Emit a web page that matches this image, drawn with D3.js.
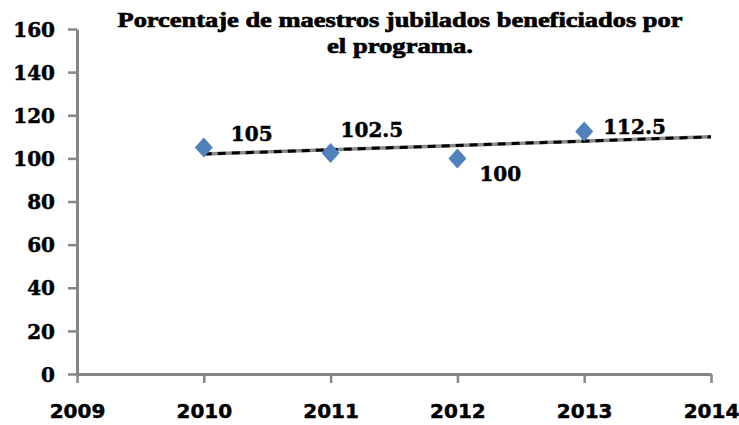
<!DOCTYPE html>
<html>
<head>
<meta charset="utf-8">
<script src="https://cdn.jsdelivr.net/npm/d3@7"></script>
<style>
  html, body { margin: 0; padding: 0; background: #fff; }
  svg { display: block; }
</style>
</head>
<body>
<script>
// ---- data ----
const years = [2010, 2011, 2012, 2013];
const values = [105, 102.5, 100, 112.5];
const labels = ["105", "102.5", "100", "112.5"];
const xTicks = [2009, 2010, 2011, 2012, 2013, 2014];
const yTicks = [0, 20, 40, 60, 80, 100, 120, 140, 160];
const titleLines = ["Porcentaje de maestros jubilados beneficiados por", "el programa."];
// label placement (offset from the point, in px): [dx, dy]
const labelOffsets = [[27, -7], [10, -16], [22, 23], [19, 3]];

const W = 739, H = 425;
const svg = d3.select("body").append("svg").attr("width", W).attr("height", H);

const x = d3.scaleLinear().domain([2009, 2014]).range([77, 711]);
const y = d3.scaleLinear().domain([0, 160]).range([374, 29]);
const axisColor = "#868686";

// y axis
const yAxis = svg.append("g").attr("transform", `translate(${x(2009)},0)`)
  .call(d3.axisLeft(y).tickValues(yTicks).tickSize(9).tickPadding(13).tickSizeOuter(0));
yAxis.select(".domain").attr("stroke", axisColor).attr("stroke-width", 3);
yAxis.selectAll(".tick line").attr("stroke", axisColor).attr("stroke-width", 2.5);
yAxis.selectAll(".tick text")
  .attr("font-family", "'DejaVu Serif', serif").attr("font-weight", "bold")
  .attr("font-size", 20).attr("fill", "#000").attr("stroke", "#000").attr("stroke-width", 0.5)
  .attr("dy", "0.36em");

// x axis
const xAxis = svg.append("g").attr("transform", `translate(0,${y(0)})`)
  .call(d3.axisBottom(x).tickValues(xTicks).tickFormat(d3.format("d")).tickSize(9).tickPadding(20).tickSizeOuter(0));
xAxis.select(".domain").attr("stroke", axisColor).attr("stroke-width", 3);
xAxis.selectAll(".tick line").attr("stroke", axisColor).attr("stroke-width", 2.5);
xAxis.selectAll(".tick text")
  .attr("font-family", "'DejaVu Sans', sans-serif").attr("font-weight", "bold")
  .attr("font-size", 20).attr("fill", "#000").attr("stroke", "#000").attr("stroke-width", 0.5)
  .attr("dy", null).attr("y", 44);

// linear trendline (least squares on the series)
const mx = d3.mean(years), my = d3.mean(values);
const slope = d3.sum(years, (d, i) => (d - mx) * (values[i] - my)) / d3.sum(years, d => (d - mx) ** 2);
const trend = xv => my + slope * (xv - mx);
const tx0 = 2010, tx1 = 2014;
svg.append("line")
  .attr("x1", x(tx0)).attr("y1", y(trend(tx0))).attr("x2", x(tx1)).attr("y2", y(trend(tx1)))
  .attr("stroke", "#8a8a8a").attr("stroke-width", 3.5);
svg.append("line")
  .attr("x1", x(tx0)).attr("y1", y(trend(tx0))).attr("x2", x(tx1)).attr("y2", y(trend(tx1)))
  .attr("stroke", "#000").attr("stroke-width", 3).attr("stroke-dasharray", "8,6");

// markers
const diamond = (cx, cy) => `M${cx},${cy - 10}L${cx + 9},${cy}L${cx},${cy + 10}L${cx - 9},${cy}Z`;
svg.append("g").selectAll("path").data(years).join("path")
  .attr("d", (d, i) => diamond(x(d), y(values[i])))
  .attr("fill", "#4F81BD");

// data labels
svg.append("g").selectAll("text").data(years).join("text")
  .attr("x", (d, i) => x(d) + labelOffsets[i][0])
  .attr("y", (d, i) => y(values[i]) + labelOffsets[i][1])
  .attr("font-family", "'DejaVu Serif', serif").attr("font-weight", "bold")
  .attr("font-size", 20).attr("fill", "#000").attr("stroke", "#000").attr("stroke-width", 0.5)
  .text((d, i) => labels[i]);

// title
svg.append("g").selectAll("text").data(titleLines).join("text")
  .attr("x", 400).attr("y", (d, i) => 27 + i * 26)
  .attr("text-anchor", "middle")
  .attr("font-family", "'Liberation Serif', serif").attr("font-weight", "bold")
  .attr("font-size", 22).attr("fill", "#000").attr("stroke", "#000").attr("stroke-width", 0.7)
  .attr("textLength", (d, i) => i === 0 ? 565 : 146)
  .attr("lengthAdjust", "spacingAndGlyphs")
  .text(d => d);
</script>
</body>
</html>
